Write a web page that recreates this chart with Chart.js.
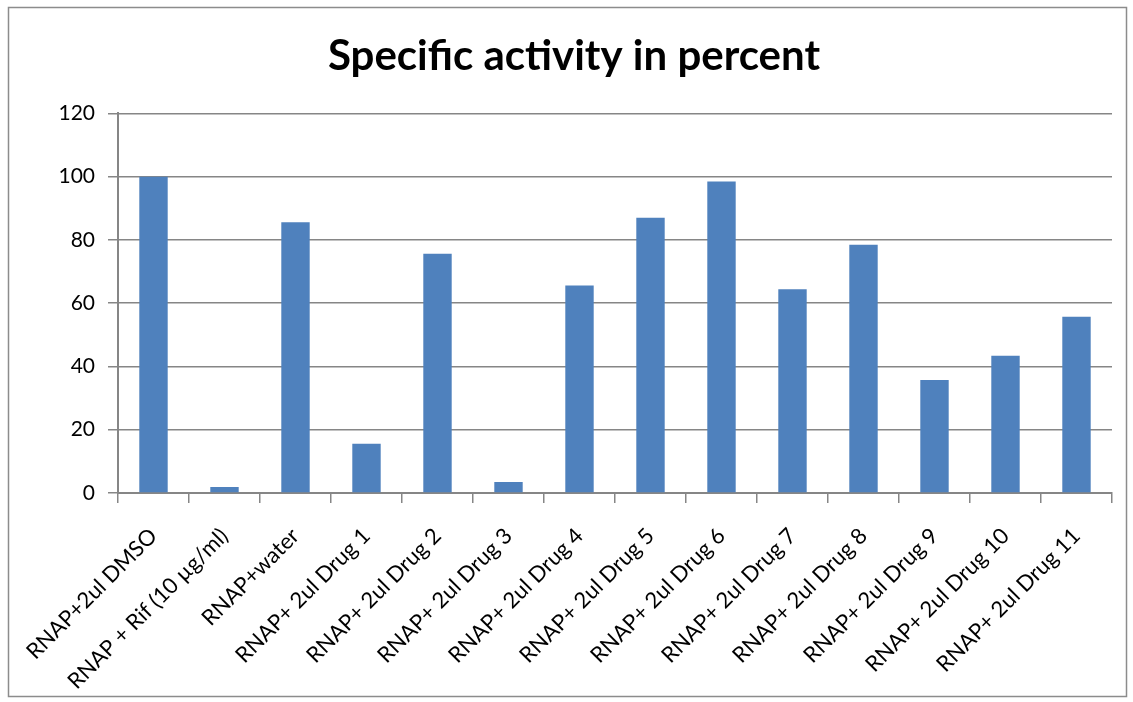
<!DOCTYPE html>
<html>
<head>
<meta charset="utf-8">
<script src="https://cdn.jsdelivr.net/npm/chart.js@4/dist/chart.umd.min.js"></script>
<style>
  html, body { margin: 0; padding: 0; background: #fff; }
  #wrap { width: 1133px; height: 702px; position: relative; }
</style>
</head>
<body>
<div id="wrap"><canvas id="barChart" width="1133" height="702"></canvas></div>
<script>
var categories = [
    "RNAP+2ul DMSO",
    "RNAP + Rif (10 \u00b5g/ml)",
    "RNAP+water",
    "RNAP+ 2ul Drug 1",
    "RNAP+ 2ul Drug 2",
    "RNAP+ 2ul Drug 3",
    "RNAP+ 2ul Drug 4",
    "RNAP+ 2ul Drug 5",
    "RNAP+ 2ul Drug 6",
    "RNAP+ 2ul Drug 7",
    "RNAP+ 2ul Drug 8",
    "RNAP+ 2ul Drug 9",
    "RNAP+ 2ul Drug 10",
    "RNAP+ 2ul Drug 11"
];
var activity = [100, 1.9, 85.6, 15.6, 75.6, 3.5, 65.6, 87.0, 98.5, 64.4, 78.5, 35.7, 43.4, 55.7];
var yTicks = [0, 20, 40, 60, 80, 100, 120];

var gridGray = "#868686";

// outer frame like the spreadsheet chart box
var framePlugin = {
    id: "frame",
    beforeDraw: function(chart) {
        var ctx = chart.ctx;
        ctx.save();
        ctx.fillStyle = "#fff";
        ctx.fillRect(0, 0, chart.width, chart.height);
        ctx.strokeStyle = "#8c8c8c";
        ctx.lineWidth = 1.5;
        ctx.strokeRect(8.5, 7.5, 1118, 689);
        ctx.restore();
    }
};

var config = {
    type: "bar",
    data: {
        labels: categories,
        datasets: [{
            label: "Specific activity",
            data: activity,
            backgroundColor: "#4f81bd",
            borderWidth: 0,
            categoryPercentage: 1.0,
            barPercentage: 0.4
        }]
    },
    options: {
        responsive: false,
        animation: false,
        layout: {
            // left padding pushes the title centre to the right like the original
            padding: { left: 36, right: 21, top: 0, bottom: 0 }
        },
        plugins: {
            legend: { display: false },
            tooltip: { enabled: false },
            title: {
                display: true,
                text: "Specific activity in percent",
                color: "#000",
                font: { family: "Lato", size: 42, weight: "bold" },
                padding: { top: 31, bottom: 32 }
            }
        },
        scales: {
            x: {
                grid: {
                    display: true,
                    drawOnChartArea: false,
                    drawTicks: true,
                    tickLength: 10,
                    color: gridGray,
                    lineWidth: 1.5
                },
                border: { display: true, color: gridGray, width: 2 },
                ticks: {
                    color: "#000",
                    font: { family: "Lato", size: 22 },
                    maxRotation: 45,
                    minRotation: 45,
                    autoSkip: false,
                    padding: 20,
                    labelOffset: 0
                },
                afterFit: function(scale) { scale.height = 209; }
            },
            y: {
                min: 0,
                max: 120,
                afterBuildTicks: function(scale) {
                    scale.ticks = yTicks.map(function(v) { return { value: v }; });
                },
                grid: {
                    color: gridGray,
                    lineWidth: 1.5,
                    drawTicks: true,
                    tickLength: 10
                },
                border: { display: true, color: gridGray, width: 2 },
                ticks: {
                    color: "#000",
                    font: { family: "Lato", size: 21 },
                    padding: 13
                },
                afterFit: function(scale) { scale.width = 82; }
            }
        }
    },
    plugins: [framePlugin]
};

var ctx = document.getElementById("barChart").getContext("2d");
var myChart = new Chart(ctx, config);
</script>
</body>
</html>
